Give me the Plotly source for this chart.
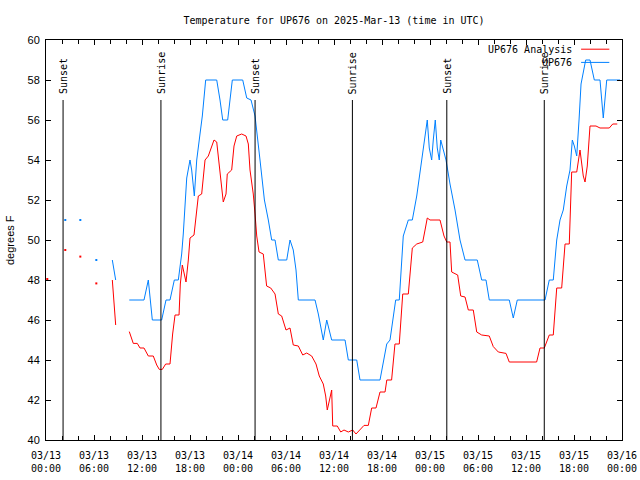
import plotly.graph_objects as go
import pandas as pd

BASE = pd.Timestamp("2025-03-13 00:00")

# ---- data (hours after 2025-03-13 00:00 UTC, degrees F) ----
obs_hours = [8.29, 8.71, None,
             10.41, 12.25, 12.79, 13.29, 14.46, 15.0, 15.5, 16.04, 16.54, 16.96, 17.16, 17.38, 17.59,
             18.0, 18.21, 18.54, 18.84, 19.25, 19.54, 19.96, 21.34, 21.75, 22.09, 22.71, 23.0, 23.29,
             24.59, 25.09, 25.63, 26.13, 26.75, 27.3, 27.79, 28.21, 28.63, 29.04, 30.09, 30.5, 30.91,
             31.25, 31.54, 33.63, 34.04, 34.34, 34.66, 35.09, 35.5, 35.71, 37.38, 37.79, 38.84, 39.25,
             41.75, 42.16, 42.59, 43.0, 43.41, 43.71, 44.16, 44.66, 45.29, 45.79, 46.34, 46.96, 47.38,
             47.66, 47.91, 48.21, 48.41, 48.66, 48.91, 49.16, 49.34, 49.66, 50.0, 50.5, 51.13, 51.75,
             52.38, 53.91, 54.46, 55.0, 55.41, 57.91, 58.41, 58.91, 62.38, 62.91, 63.41, 63.84, 64.25,
             64.66, 65.09, 65.5, 65.79, 66.04, 66.34, 66.63, 66.88, 67.46, 68.0, 68.54, 69.25, 69.66,
             70.09, 71.75]
obs_temps = [49, 48, None,
             47, 47, 48, 46, 46, 47, 47, 48, 48, 49.3, 50.3, 51.7, 53.1,
             54.0, 53.5, 52.2, 54.0, 55.3, 56.2, 58, 58, 57, 56, 56, 57.1, 58,
             58, 57.1, 57, 56.2, 54, 52, 51, 50, 50, 49, 49, 50, 49.5,
             48.5, 47, 47, 46.3, 45.7, 45, 46, 45.3, 45, 45, 44, 44, 43,
             43, 43.8, 44.8, 45, 46.25, 47, 47, 50.2, 51, 51, 52.2, 54, 55,
             56, 54.6, 54, 55, 56, 54.6, 54, 55, 54.5, 54, 52.8, 51.5, 50,
             49, 49, 48, 48, 47, 47, 46.1, 47, 47, 48, 48, 50, 51,
             51.5, 52.7, 53.5, 55, 54.7, 54.2, 56, 57.8, 59, 59, 58, 58, 56.1,
             58, 58]

ana_hours = [8.29, 8.71, None,
             10.41, 10.91, 11.41, 11.75, 12.25, 12.79, 13.41, 13.84, 14.16, 14.54, 14.96, 15.5, 15.83,
             16.0, 16.13, 16.63, 16.79, 17.04, 17.29, 17.5, 17.79, 18.0, 18.5, 18.84, 19.04, 19.46,
             19.88, 20.29, 20.71, 21.0, 21.34, 21.66, 21.88, 22.16, 22.5, 22.66, 23.21, 23.5, 23.84,
             24.46, 25.0, 25.29, 25.5, 25.91, 26.13, 26.34, 26.63, 27.16, 27.58, 28.09, 28.63, 29.04,
             29.46, 30.0, 30.5, 30.91, 31.54, 32.09, 32.59, 33.21, 33.75, 34.16, 34.66, 34.96, 35.16,
             35.41, 35.71, 35.84, 36.41, 36.84, 37.25, 37.79, 38.34, 38.75, 39.25, 39.75, 40.29, 40.71,
             41.25, 41.75, 42.38, 42.6, 43.2, 43.62, 44.16, 44.59, 45.29, 45.79, 46.34, 47.09, 47.38,
             47.66, 48.0, 49.25, 49.75, 50.09, 50.5, 50.71, 51.46, 51.84, 52.38, 52.79, 53.41, 53.84,
             54.46, 55.41, 55.91, 56.54, 57.5, 57.91, 61.33, 61.75, 62.29, 62.91, 63.41, 63.84, 64.46,
             64.88, 65.41, 65.71, 66.34, 66.75, 67.16, 67.38, 67.66, 68.0, 68.75, 69.25, 70.41, 70.84,
             71.41]
ana_temps = [48, 45.75, None,
             45.42, 44.83, 44.83, 44.6, 44.6, 44.2, 44.2, 43.75, 43.53, 43.53, 43.8, 43.8, 45.3,
             45.8, 46.25, 46.25, 47.8, 48.75, 48.3, 47.9, 49, 50.1, 50.25, 51.3, 52.2, 52.3,
             54.0, 54.2, 54.7, 55.0, 54.9, 53.8, 52.8, 51.9, 52.3, 53.3, 53.5, 54.7, 55.2,
             55.3, 55.2, 54.8, 53.5, 52.3, 51.3, 50.2, 49.4, 49.3, 47.7, 47.6, 47.3, 46.3,
             46.2, 45.5, 45.6, 44.75, 44.7, 44.25, 44.35, 44.2, 43.8, 43.2, 42.8, 42.2, 41.5,
             42.0, 42.5, 40.7, 40.7, 40.4, 40.5, 40.4, 40.5, 40.3, 40.5, 40.73, 40.73, 41.6,
             41.6, 42.4, 42.4, 43.0, 43.0, 44.8, 44.8, 47.3, 47.3, 49.6, 49.8, 49.9, 50.5,
             51.1, 51.0, 51.0, 50.2, 49.9, 49.9, 48.4, 48.25, 47.2, 47.15, 46.5, 46.5, 45.4,
             45.25, 45.2, 44.67, 44.4, 44.33, 43.9, 43.9, 44.6, 44.6, 45.25, 45.25, 47.6, 47.6,
             49.8, 49.8, 53.4, 53.4, 54.5, 53.2, 52.9, 53.7, 55.7, 55.7, 55.6, 55.6, 55.8,
             55.8]

obs_dot_hours = [2.41, 4.29, 6.29]
obs_dot_temps = [51, 51, 49]
ana_dot_hours = [0.16, 2.41, 4.29, 6.29]
ana_dot_temps = [48.05, 49.5, 49.17, 47.83]

sun_labels = ["Sunset", "Sunrise", "Sunset", "Sunrise", "Sunset", "Sunrise"]
sun_times = ["2025-03-13 02:08", "2025-03-13 14:22", "2025-03-14 02:08",
             "2025-03-14 14:18", "2025-03-15 02:06", "2025-03-15 14:17"]

RED = "#ff0000"
BLUE = "#0080ff"
MONO = "DejaVu Sans Mono"
SANS = "Liberation Sans"


def to_time(hours):
    return [None if h is None else BASE + pd.Timedelta(hours=h) for h in hours]


fig = go.Figure()
fig.add_trace(go.Scatter(x=to_time(ana_hours), y=ana_temps, mode="lines",
                         line=dict(color=RED, width=1), name="UP676 Analysis",
                         connectgaps=False, showlegend=False))
fig.add_trace(go.Scatter(x=to_time(obs_hours), y=obs_temps, mode="lines",
                         line=dict(color=BLUE, width=1), name="UP676",
                         connectgaps=False, showlegend=False))
fig.add_trace(go.Scatter(x=to_time(ana_dot_hours), y=ana_dot_temps, mode="markers",
                         marker=dict(color=RED, size=2, symbol="square"), showlegend=False))
fig.add_trace(go.Scatter(x=to_time(obs_dot_hours), y=obs_dot_temps, mode="markers",
                         marker=dict(color=BLUE, size=2, symbol="square"), showlegend=False))

for lab, t in zip(sun_labels, sun_times):
    fig.add_shape(type="line", x0=t, x1=t, y0=40, y1=57, xref="x", yref="y",
                  line=dict(color="black", width=1))
    fig.add_annotation(x=t, y=57.2, xref="x", yref="y", text=lab, textangle=-90,
                       showarrow=False, yanchor="bottom", xanchor="center",
                       font=dict(family=MONO, size=10, color="black"))

# custom gnuplot-style legend (text left, sample right)
legend_items = [("UP676 Analysis", RED, 0.977), ("UP676", BLUE, 0.944)]
for name, col, yp in legend_items:
    fig.add_annotation(x=0.917, y=yp, xref="paper", yref="paper", text=name,
                       showarrow=False, xanchor="right", yanchor="middle",
                       font=dict(family=MONO, size=10, color="black"))
    fig.add_shape(type="line", x0=0.929, x1=0.978, y0=yp, y1=yp, xref="paper", yref="paper",
                  line=dict(color=col, width=1))

fig.add_annotation(x=0, y=0.5, xref="paper", yref="paper", xshift=-36, text="degrees F",
                   textangle=-90, showarrow=False, xanchor="center", yanchor="middle",
                   font=dict(family=SANS, size=11, color="black"))

fig.update_layout(
    width=640, height=480,
    margin=dict(l=46, r=18, t=40, b=40, autoexpand=False),
    paper_bgcolor="white", plot_bgcolor="white",
    title=dict(text="Temperature for UP676 on 2025-Mar-13 (time in UTC)",
               x=0.522, xanchor="center", y=0.958, yanchor="middle", automargin=False,
               font=dict(family=MONO, size=10, color="black")),
    showlegend=False,
    hovermode=False,
)
fig.update_xaxes(
    type="date", range=["2025-03-13 00:00", "2025-03-16 00:00"], automargin=False,
    dtick=6 * 3600 * 1000, tick0="2025-03-13 00:00", tickformat="%m/%d<br>%H:%M",
    ticks="inside", ticklen=5, tickcolor="black", ticklabelstandoff=6,
    minor=dict(dtick=2 * 3600 * 1000, ticks="inside", ticklen=4, tickcolor="black"),
    showline=True, linecolor="black", linewidth=1, mirror="ticks",
    showgrid=False, zeroline=False,
    tickfont=dict(family=MONO, size=10, color="black"),
)
fig.update_yaxes(
    range=[40, 60], dtick=2, ticks="inside", ticklen=5, tickcolor="black", automargin=False,
    ticklabelstandoff=3,
    showline=True, linecolor="black", linewidth=1, mirror="ticks",
    showgrid=False, zeroline=False,
    tickfont=dict(family=SANS, size=11, color="black"),
)

fig.write_html("out.html", config={"displayModeBar": False},
               post_script="document.body.style.margin='0';document.body.style.padding='0';")
